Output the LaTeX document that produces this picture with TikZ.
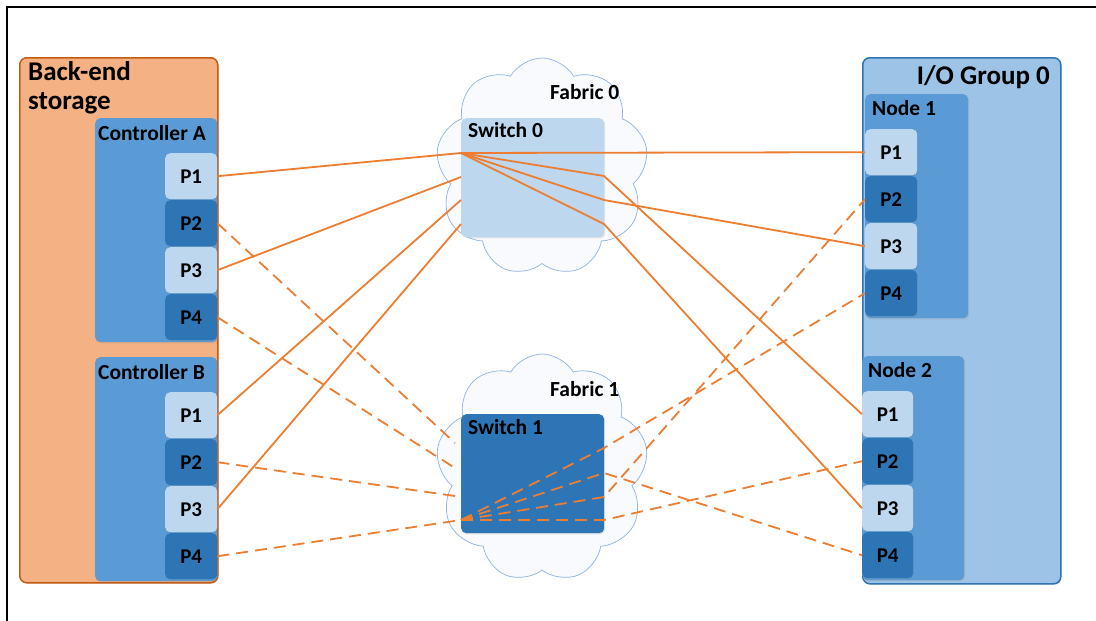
\documentclass[tikz,border=0pt]{standalone}
\usepackage{fontspec}
\setmainfont{Carlito}
\usetikzlibrary{shapes.symbols,shadows}

\definecolor{storefill}{HTML}{F4B183}
\definecolor{storeline}{HTML}{C55A11}
\definecolor{ctrlblue}{HTML}{5B9BD5}
\definecolor{portlight}{HTML}{BDD7EE}
\definecolor{portdark}{HTML}{2E75B6}
\definecolor{groupfill}{HTML}{9DC3E6}
\definecolor{groupline}{HTML}{2E75B6}
\definecolor{linkorange}{HTML}{ED7D31}
\definecolor{cloudline}{HTML}{8DB3E2}
\definecolor{cloudfill}{HTML}{F8FAFD}

\tikzset{
  box/.style={rectangle, rounded corners=5pt, inner sep=0pt, anchor=north west},
  softshadow/.style={drop shadow={opacity=0.18, shadow xshift=1pt, shadow yshift=-1.2pt}},
  ctrlbox/.style={box, fill=ctrlblue, minimum width=122pt, minimum height=224pt, softshadow},
  nodebox/.style={box, fill=ctrlblue, minimum width=103pt, minimum height=224pt, softshadow},
  portbox/.style={box, minimum width=52pt, minimum height=46pt, font=\portfont, softshadow},
  pl/.style={portbox, fill=portlight},
  pd/.style={portbox, fill=portdark},
  title/.style={anchor=base west, inner sep=0pt, font=\titlefont},
  label/.style={anchor=base west, inner sep=0pt, font=\labelfont},
  fabric/.style={cloud, cloud puffs=9, cloud puff arc=120, aspect=1,
    draw=cloudline, line width=0.7pt, fill=cloudfill, inner sep=0pt},
  switchbox/.style={box, minimum width=143pt, minimum height=119pt, softshadow},
  link/.style={draw=linkorange, line width=1.8pt, line join=round},
  dlink/.style={link, dash pattern=on 12pt off 7pt},
}
\newcommand{\portfont}{\fontsize{21}{23}\selectfont\bfseries}
\newcommand{\labelfont}{\fontsize{21.5}{24}\selectfont\bfseries}
\newcommand{\titlefont}{\fontsize{27}{30}\selectfont\bfseries}

\begin{document}
\begin{tikzpicture}[x=1pt, y=-1pt]
\useasboundingbox (0,0) rectangle (1096,621);

% outer frame (top and left edges)
\draw[line width=1.5pt] (1096,7) -- (7,7) -- (7,621);

% ---------- back-end storage ----------
\node[box, rounded corners=7pt, fill=storefill, draw=storeline, line width=1.5pt,
      minimum width=198pt, minimum height=525pt, softshadow] (store) at (19,57) {};
\node[title] (storeT1) at (28,80) {Back-end};
\node[title] (storeT2) at (28,109) {storage};

\node[ctrlbox] (ctrlA) at (95,118) {};
\node[label] (ctrlAT) at (98,140) {Controller A};
\node[pl] (aP1) at (165,153) {P1};
\node[pd] (aP2) at (165,200) {P2};
\node[pl] (aP3) at (165,247) {P3};
\node[pd] (aP4) at (165,294) {P4};

\node[ctrlbox] (ctrlB) at (95,357) {};
\node[label] (ctrlBT) at (98,379) {Controller B};
\node[pl] (bP1) at (165,392) {P1};
\node[pd] (bP2) at (165,439) {P2};
\node[pl] (bP3) at (165,486) {P3};
\node[pd] (bP4) at (165,533) {P4};

% ---------- I/O group ----------
\node[box, rounded corners=7pt, fill=groupfill, draw=groupline, line width=1.5pt,
      minimum width=198pt, minimum height=526pt, softshadow] (iogrp) at (862,57) {};
\node[title, anchor=base east] (iogrpT) at (1050,84) {I/O Group 0};

\node[nodebox] (node1) at (865,94) {};
\node[label] (node1T) at (872,115) {Node 1};
\node[pl] (cP1) at (865,129) {P1};
\node[pd] (cP2) at (865,176) {P2};
\node[pl] (cP3) at (865,223) {P3};
\node[pd] (cP4) at (865,270) {P4};

\node[nodebox, minimum width=102pt] (node2) at (862,356) {};
\node[label] (node2T) at (868,377) {Node 2};
\node[pl, minimum width=51pt] (dP1) at (862,391) {P1};
\node[pd, minimum width=51pt] (dP2) at (862,438) {P2};
\node[pl, minimum width=51pt] (dP3) at (862,485) {P3};
\node[pd, minimum width=51pt] (dP4) at (862,532) {P4};

% ---------- fabrics ----------
\node[fabric, minimum width=212pt, minimum height=218pt] (fab0) at (542,167) {};
\node[switchbox, fill=portlight] (sw0) at (461,118) {};
\node[label] (sw0T) at (468,137) {Switch 0};
\node[label] (fab0T) at (550,99) {Fabric 0};

\node[fabric, minimum width=212pt, minimum height=228pt] (fab1) at (542,468) {};
\node[switchbox, fill=portdark] (sw1) at (461,414) {};
\node[label] (sw1T) at (468,434) {Switch 1};
\node[label] (fab1T) at (550,396) {Fabric 1};

% switch attachment points
\coordinate (hub0) at (461,153);
\coordinate (s0L2) at (461,177);
\coordinate (s0L3) at (461,200);
\coordinate (s0L4) at (461,224);
\coordinate (s0R2) at (604,176);
\coordinate (s0R3) at (604,200);
\coordinate (s0R4) at (604,224);

\coordinate (hub1) at (461,520);
\coordinate (s1L1) at (455,443);
\coordinate (s1L2) at (455,468);
\coordinate (s1L3) at (455,496);
\coordinate (s1R1) at (604,448);
\coordinate (s1R2) at (604,473);
\coordinate (s1R3) at (604,497);
\coordinate (s1R4) at (604,520);

% ---------- fabric 0 links ----------
\draw[link] (aP1.east) -- (hub0);
\draw[link] (aP3.east) -- (s0L2);
\draw[link] (bP1.east) -- (s0L3);
\draw[link] (bP3.east) -- (s0L4);
\draw[link] (hub0) -- (cP1.west);
\draw[link] (hub0) -- (s0R2) -- (dP1.west);
\draw[link] (hub0) -- (s0R3) -- (cP3.west);
\draw[link] (hub0) -- (s0R4) -- (dP3.west);

% ---------- fabric 1 links ----------
\draw[dlink] (aP2.east) -- (s1L1);
\draw[dlink] (aP4.east) -- (s1L2);
\draw[dlink] (bP2.east) -- (s1L3);
\draw[dlink] (bP4.east) -- (hub1);
\draw[dlink] (hub1) -- (s1R1) -- (cP4.west);
\draw[dlink] (hub1) -- (s1R2) -- (dP4.west);
\draw[dlink] (hub1) -- (s1R3) -- (cP2.west);
\draw[dlink] (hub1) -- (s1R4) -- (dP2.west);
\end{tikzpicture}
\end{document}
